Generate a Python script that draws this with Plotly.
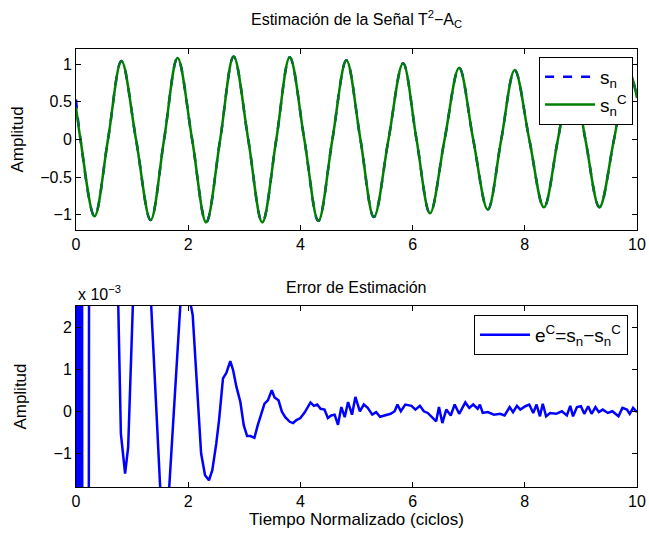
import plotly.graph_objects as go

# ---------------- data ----------------
# Top panel: signal s_n and its estimate s_n^C (extremes and zero crossings)
t_top = [0, 0.08, 0.33, 0.57, 0.81, 1.07, 1.33, 1.57, 1.81, 2.07, 2.32, 2.57, 2.81,
         3.07, 3.32, 3.57, 3.81, 4.07, 4.32, 4.57, 4.82, 5.07, 5.31, 5.57, 5.83,
         6.07, 6.31, 6.57, 6.83, 7.08, 7.34, 7.58, 7.82, 8.08, 8.34, 8.59, 8.84,
         9.08, 9.33, 9.59, 9.85, 10.0]
s_n = [0.53, 0, -1.02, 0, 1.04, 0, -1.07, 0, 1.08, 0, -1.10, 0, 1.10,
       0, -1.10, 0, 1.09, 0, -1.08, 0, 1.05, 0, -1.03, 0, 1.01,
       0, -0.98, 0, 0.95, 0, -0.93, 0, 0.92, 0, -0.90, 0, 0.91,
       0, -0.90, 0, 0.92, 0.55]
s_c = [0.43, 0, -1.02, 0, 1.04, 0, -1.07, 0, 1.08, 0, -1.10, 0, 1.10,
       0, -1.10, 0, 1.09, 0, -1.08, 0, 1.05, 0, -1.03, 0, 1.01,
       0, -0.98, 0, 0.95, 0, -0.93, 0, 0.92, 0, -0.90, 0, 0.91,
       0, -0.90, 0, 0.92, 0.55]

# Bottom panel: estimation error, in units of 1e-3
t_err = [0.0, 0.03, 0.06, 0.09, 0.13, 0.20, 0.26, 0.40, 0.60, 0.70, 0.80, 0.875, 0.93,
         1.05, 1.15, 1.30, 1.53, 1.60, 1.63, 1.90, 1.95, 2.02, 2.08, 2.23, 2.30, 2.37,
         2.43, 2.50, 2.55, 2.62, 2.68, 2.75, 2.80, 2.86, 2.93, 2.99, 3.05, 3.11, 3.18,
         3.24, 3.30, 3.36, 3.42, 3.49, 3.54, 3.61, 3.67, 3.73, 3.81, 3.87, 3.93, 4.00,
         4.08, 4.14, 4.18, 4.24, 4.30, 4.36, 4.43, 4.49, 4.55, 4.61, 4.67, 4.73, 4.79,
         4.85, 4.92, 4.98, 5.06, 5.13, 5.20, 5.28, 5.35, 5.42, 5.53, 5.61, 5.68, 5.73,
         5.79, 5.87, 5.98, 6.05, 6.13, 6.20, 6.27, 6.35, 6.42, 6.47, 6.53, 6.60, 6.68,
         6.75, 6.83, 6.94, 7.01, 7.08, 7.16, 7.20, 7.25, 7.34, 7.45, 7.56, 7.64, 7.73,
         7.79, 7.86, 7.92, 8.01, 8.08, 8.15, 8.21, 8.27, 8.32, 8.38, 8.45, 8.56, 8.66,
         8.75, 8.81, 8.86, 8.93, 9.00, 9.06, 9.13, 9.19, 9.26, 9.32, 9.39, 9.48, 9.56,
         9.67, 9.74, 9.82, 9.87, 9.93, 10.0]
err = [-20, 40, -40, 40, -40, -40, 40, 30, 20, 6, -0.53, -1.48, -0.85,
       4, 6, 3.6, -2.6, -3.5, -2.5, 3.4, 3.3, 2.7, 2.29, -1.0, -1.52, -1.64,
       -1.40, -0.77, -0.21, 0.78, 0.91, 1.19, 0.98, 0.58, 0.22, -0.33, -0.59, -0.59, -0.63,
       -0.33, -0.06, 0.18, 0.26, 0.50, 0.33, 0.26, -0.01, -0.14, -0.25, -0.28, -0.21, -0.16,
       -0.02, 0.10, 0.21, 0.13, 0.16, 0.06, 0.04, -0.16, -0.10, -0.08, -0.32, 0.10, -0.14,
       0.22, -0.08, 0.34, 0.0, 0.16, 0.08, -0.08, -0.02, -0.13, -0.10, -0.06, 0.0, 0.16,
       0.0, 0.16, 0.13, 0.04, 0.13, 0.0, -0.04, -0.16, -0.24, 0.10, -0.28, 0.04, -0.10,
       0.16, -0.06, 0.21, 0.08, 0.16, 0.06, 0.16, -0.04, -0.02, -0.08, -0.06, -0.10, 0.10,
       -0.02, 0.13, 0.04, 0.12, 0.16, -0.04, 0.16, -0.12, 0.18, -0.12, -0.04, -0.06, 0.0,
       -0.10, 0.13, -0.12, 0.10, 0.12, -0.06, 0.12, -0.06, 0.10, -0.02, 0.04, -0.04, 0.0,
       -0.12, 0.08, 0.04, -0.06, 0.08, -0.02]

x_ticks = [0, 2, 4, 6, 8, 10]
top_yticks = [-1, -0.5, 0, 0.5, 1]
bot_yticks = [-1, 0, 1, 2]

# ---------------- figure ----------------
FONT = "Liberation Sans, Arial, Helvetica, sans-serif"
BLUE = "rgb(0,0,255)"
GREEN = "rgb(0,128,0)"

fig = go.Figure()
fig.add_trace(go.Scatter(x=t_top, y=s_n, mode="lines", name="s<sub>n</sub>",
                         line=dict(color=BLUE, width=2.5, dash="dash", shape="spline", smoothing=1.0),
                         xaxis="x", yaxis="y", legend="legend"))
fig.add_trace(go.Scatter(x=t_top, y=s_c, mode="lines", name="s<sub>n</sub><sup>C</sup>",
                         line=dict(color=GREEN, width=2.5, shape="spline", smoothing=1.0),
                         xaxis="x", yaxis="y", legend="legend"))
fig.add_trace(go.Scatter(x=t_err, y=err, mode="lines",
                         name="e<sup>C</sup>=s<sub>n</sub>−s<sub>n</sub><sup>C</sup>",
                         line=dict(color=BLUE, width=2.5),
                         xaxis="x2", yaxis="y2", legend="legend2"))

axis_common = dict(showline=True, linecolor="black", linewidth=1, mirror="ticks",
                   ticks="inside", ticklen=5, tickcolor="black", showgrid=False,
                   zeroline=False, automargin=False,
                   tickfont=dict(family=FONT, size=16, color="black"))

fig.update_layout(
    width=649, height=533,
    margin=dict(l=76, r=12, t=49, b=46),
    paper_bgcolor="white", plot_bgcolor="white",
    font=dict(family=FONT, size=16, color="black"),
    xaxis=dict(domain=[0, 1], range=[0, 10], tickvals=x_ticks, anchor="y", **axis_common),
    yaxis=dict(domain=[0.587, 1.0], range=[-1.2, 1.2], tickvals=top_yticks, anchor="x",
               title=dict(text="Amplitud", standoff=12, font=dict(size=17)), **axis_common),
    xaxis2=dict(domain=[0, 1], range=[0, 10], tickvals=x_ticks, anchor="y2",
                title=dict(text="Tiempo Normalizado (ciclos)", standoff=2, font=dict(size=17)),
                **axis_common),
    yaxis2=dict(domain=[0, 0.413], range=[-1.8, 2.5], tickvals=bot_yticks, anchor="x2",
                title=dict(text="Amplitud", standoff=22, font=dict(size=17)), **axis_common),
    legend=dict(x=0.993, y=0.982, xanchor="right", yanchor="top", bgcolor="white",
                bordercolor="black", borderwidth=1, font=dict(size=19), itemwidth=50,
                tracegroupgap=4),
    legend2=dict(x=0.984, y=0.393, xanchor="right", yanchor="top", bgcolor="white",
                 bordercolor="black", borderwidth=1, font=dict(size=19), itemwidth=50),
    showlegend=True,
)

fig.add_annotation(text="Estimación de la Señal T<sup>2</sup>−A<sub>C</sub>",
                   xref="paper", yref="paper", x=0.5, y=1.0, yshift=17,
                   xanchor="center", yanchor="bottom", showarrow=False,
                   font=dict(size=16))
fig.add_annotation(text="Error de Estimación", xref="paper", yref="paper",
                   x=0.5, y=0.413, yshift=8, xanchor="center", yanchor="bottom",
                   showarrow=False, font=dict(size=16))
fig.add_annotation(text="x 10<sup>−3</sup>", xref="paper", yref="paper",
                   x=0.0, y=0.413, yshift=1, xanchor="left", yanchor="bottom",
                   showarrow=False, font=dict(size=16))

fig.write_html("out.html")
